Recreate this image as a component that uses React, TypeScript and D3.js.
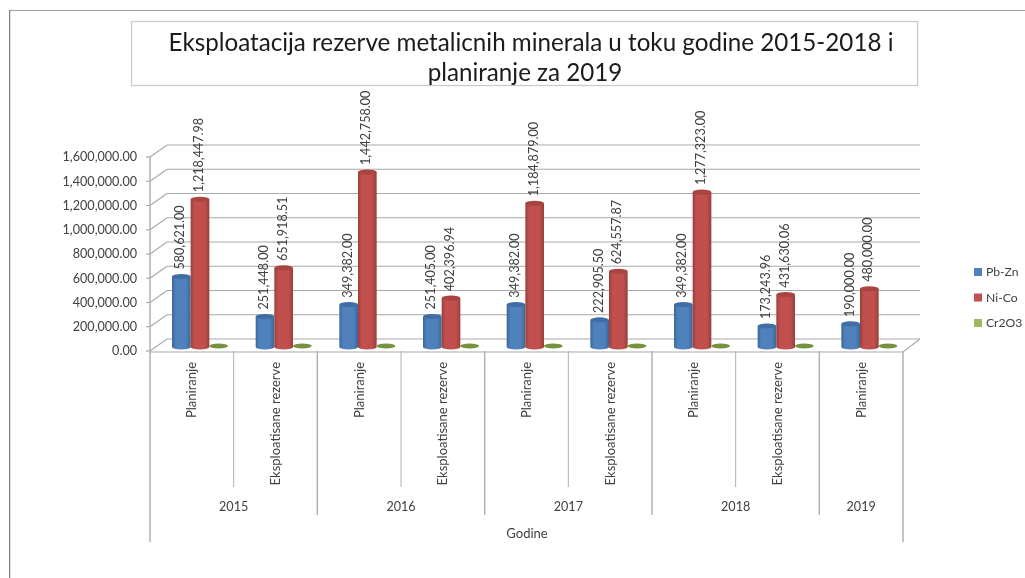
import React from 'react';
import * as d3 from 'd3';

const categories = ['Planiranje', 'Eksploatisane rezerve', 'Planiranje', 'Eksploatisane rezerve', 'Planiranje', 'Eksploatisane rezerve', 'Planiranje', 'Eksploatisane rezerve', 'Planiranje'];
const years = ['2015', '2016', '2017', '2018', '2019'];
const yearSpans = [2, 2, 2, 2, 1];
const pbZn = [580621, 251448, 349382, 251405, 349382, 222905.5, 349382, 173243.96, 190000];
const niCo = [1218447.98, 651918.51, 1442758, 402396.94, 1184879, 624557.87, 1277323, 431630.06, 480000];
const cr2o3 = [0, 0, 0, 0, 0, 0, 0, 0, 0];
const seriesNames = ['Pb-Zn', 'Ni-Co', 'Cr2O3'];
const seriesValues = [pbZn, niCo, cr2o3];
const colors = ['#4f81bd', '#c0504d', '#9bbb59'];
const edgeColors = ['#3d6796', '#9a3e3b', '#76923c'];
const topColors = ['#3f6da3', '#a84441', '#76923c'];
const titleLines = ['Eksploatacija rezerve metalicnih minerala u toku godine 2015-2018 i', 'planiranje za 2019'];
const titleCenters = [531, 525];

const FONT = 'Lato, "Open Sans", sans-serif';
const TEXT = '#404040';
const GRID = '#a9a9a9';
const AXIS = '#b0b0b0';

const left = 150;
const right = 903;
const depthX = 17;
const depthY = 12;

const fmt = d3.format(',.2f');

const App = () => {
    const y = d3.scaleLinear().domain([0, 1600000]).range([351, 157]);
    const x = d3.scaleBand<number>().domain(d3.range(categories.length)).range([left, right]);
    // the bars stand half way into the floor
    const inner = d3.scaleBand<number>().domain(d3.range(3)).range([22, 78]);
    const ticks = y.ticks(8);
    const barBase = y(0) - 4;
    const rx = inner.bandwidth() / 2;
    const ry = 2.6;

    let running = 0;
    const yearGroups = years.map((name, i) => {
        const start = x(running) as number;
        running += yearSpans[i];
        const end = running < categories.length ? (x(running) as number) : right;
        return { name, start, end };
    });

    return (
        <svg width={1025} height={578} style={{ position: 'absolute', left: 0, top: 0, background: '#fff' }} fontFamily={FONT}>
            <defs>
                {colors.map((c, i) => (
                    <linearGradient key={c} id={`cyl${i}`} x1="0" x2="1" y1="0" y2="0">
                        <stop offset="0" stopColor={edgeColors[i]} />
                        <stop offset="0.2" stopColor={c} />
                        <stop offset="0.75" stopColor={c} />
                        <stop offset="1" stopColor={edgeColors[i]} />
                    </linearGradient>
                ))}
                <filter id="soft" x="0" y="0" width="100%" height="100%">
                    <feGaussianBlur stdDeviation="0.35" />
                </filter>
            </defs>
            <g filter="url(#soft)">
                <path d="M9.5,578V10H1025" fill="none" stroke="#808080" strokeWidth={1.5} />
                <rect x={131.5} y={21.5} width={786} height={64} fill="#fff" stroke="#c8c8c8" strokeWidth={1.2} />
                {titleLines.map((t, i) => (
                    <text key={t} x={titleCenters[i]} y={51 + i * 29.5} textAnchor="middle" fontSize={24.2} fill="#1a1a1a">{t}</text>
                ))}

                {/* walls and floor */}
                {ticks.map(t => (
                    <g key={t} stroke={GRID} strokeWidth={1.2} fill="none">
                        <path d={`M${left},${y(t)}L${left + depthX},${y(t) - depthY}H${right + depthX}`} />
                        <line x1={left - 4} x2={left} y1={y(t)} y2={y(t)} />
                    </g>
                ))}
                <path d={`M${left},${y(0) + 1}H${right}L${right + depthX},${y(0) - depthY}`} fill="none" stroke={GRID} strokeWidth={1.2} />

                {/* axis lines */}
                <line x1={left} x2={left} y1={y(1600000)} y2={542} stroke={AXIS} strokeWidth={1.5} />
                {categories.map((_, i) => i > 0 && (
                    <line key={i} x1={x(i)} x2={x(i)} y1={y(0)} y2={i % 2 ? 487 : 515} stroke={AXIS} strokeWidth={i % 2 ? 1 : 1.5} />
                ))}
                <line x1={right} x2={right} y1={y(0)} y2={542} stroke={AXIS} strokeWidth={1.5} />

                {ticks.map(t => (
                    <text key={t} x={137} y={y(t)} dy="0.35em" textAnchor="end" fontSize={12.6} fill={TEXT}>{fmt(t)}</text>
                ))}

                {/* cylinders */}
                {categories.map((_, i) => (
                    <g key={i}>
                        {seriesValues.map((vals, s) => {
                            const bx = (x(i) as number) + (inner(s) as number);
                            const h = barBase - (y(vals[i]) - 4);
                            const cx = bx + rx;
                            const top = barBase - h;
                            if (vals[i] === 0) {
                                return <ellipse key={s} cx={cx} cy={barBase - 1} rx={rx} ry={2.4} fill={edgeColors[2]} />;
                            }
                            return (
                                <g key={s}>
                                    <path
                                        d={`M${bx},${top}V${barBase}A${rx},${ry} 0 0 0 ${bx + 2 * rx},${barBase}V${top}Z`}
                                        fill={`url(#cyl${s})`}
                                    />
                                    <ellipse cx={cx} cy={top} rx={rx} ry={ry} fill={topColors[s]} />
                                    <text
                                        transform={`translate(${cx + 3},${top - 7}) rotate(-90)`}
                                        fontSize={12.6}
                                        fill={TEXT}
                                    >{fmt(vals[i])}</text>
                                </g>
                            );
                        })}
                    </g>
                ))}

                {/* category and year labels */}
                {categories.map((c, i) => (
                    <text
                        key={i}
                        transform={`translate(${(x(i) as number) + x.bandwidth() / 2 + 4.5},362) rotate(-90)`}
                        textAnchor="end"
                        fontSize={13}
                        fill={TEXT}
                    >{c}</text>
                ))}
                {yearGroups.map(g => (
                    <text key={g.name} x={(g.start + g.end) / 2} y={511} textAnchor="middle" fontSize={12.6} fill={TEXT}>{g.name}</text>
                ))}
                <text x={527} y={538} textAnchor="middle" fontSize={13} fill={TEXT}>Godine</text>

                {/* legend */}
                {seriesNames.map((n, i) => (
                    <g key={n} transform={`translate(974,${268 + i * 25.5})`}>
                        <rect width={8} height={8} fill={colors[i]} />
                        <text x={12} y={4} dy="0.35em" fontSize={12.2} fill={TEXT}>{n}</text>
                    </g>
                ))}
            </g>
        </svg>
    );
};

export default App;
